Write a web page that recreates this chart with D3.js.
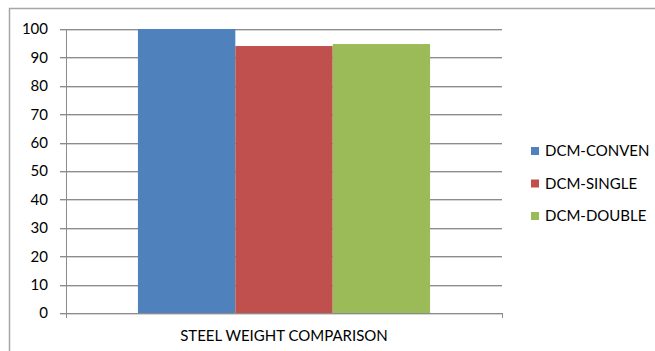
<!DOCTYPE html>
<html><head><meta charset="utf-8">
<script src="https://cdn.jsdelivr.net/npm/d3@7"></script>
<style>html,body{margin:0;padding:0;background:#fff}svg{display:block}</style>
</head><body>
<script>
const categories = ["STEEL WEIGHT COMPARISON"];
const seriesNames = ["DCM-CONVEN", "DCM-SINGLE", "DCM-DOUBLE"];
const seriesValues = [100, 94.0, 94.7];
const colors = ["#4f81bd", "#c0504d", "#9bbb59"];
const yTicks = [0,10,20,30,40,50,60,70,80,90,100];

const W = 655, H = 351;
const svg = d3.select("body").append("svg").attr("width", W).attr("height", H);
const font = "Lato, 'Open Sans', sans-serif";
const fs = 15;

// outer frame (left and top visible)
svg.append("path").attr("d", `M9.5,${H} L9.5,8.5 L${W},8.5`).attr("fill","none").attr("stroke","#a6a6a6").attr("stroke-width",1.5);

const x0 = 66, x1 = 502, yTop = 29, yBot = 313;
const y = d3.scaleLinear().domain([0,100]).range([yBot, yTop]);
const xCat = d3.scaleBand().domain(categories).range([x0, x1]);
const xSer = d3.scaleBand().domain(seriesNames).range([xCat.bandwidth()*0.165, xCat.bandwidth()*0.835]);

// gridlines
const g = svg.append("g");
yTicks.forEach(t => {
  g.append("line").attr("x1", x0-6).attr("x2", x1).attr("y1", Math.round(y(t))+0.5).attr("y2", Math.round(y(t))+0.5)
    .attr("stroke", "#8c8c8c").attr("stroke-width", 1);
  g.append("line").attr("x1", x0-6).attr("x2", x1).attr("y1", Math.round(y(t))+1.5).attr("y2", Math.round(y(t))+1.5)
    .attr("stroke", "#d4d4d4").attr("stroke-width", 1);
});

// bars
categories.forEach(c => {
  seriesNames.forEach((s, i) => {
    svg.append("rect")
      .attr("x", xCat(c) + xSer(s))
      .attr("y", y(seriesValues[i]))
      .attr("width", xSer.bandwidth())
      .attr("height", y(0) - y(seriesValues[i]))
      .attr("fill", colors[i]);
  });
});

// y axis
const yAxis = d3.axisLeft(y).tickValues(yTicks).tickSize(0).tickPadding(18);
const ya = svg.append("g").attr("transform", `translate(${x0},0)`).call(yAxis);
ya.select(".domain").remove();
ya.selectAll("text").attr("font-family", font).attr("font-size", fs).attr("fill", "#000");
svg.append("line").attr("x1", x0+0.5).attr("x2", x0+0.5).attr("y1", yTop).attr("y2", yBot+5).attr("stroke","#8c8c8c");
svg.append("line").attr("x1", x1+0.5).attr("x2", x1+0.5).attr("y1", yBot).attr("y2", yBot+5).attr("stroke","#8c8c8c");

// x axis label
const xAxis = d3.axisBottom(xCat).tickSize(0).tickPadding(17);
const xa = svg.append("g").attr("transform", `translate(0,${yBot})`).call(xAxis);
xa.select(".domain").remove();
xa.selectAll("text").attr("font-family", font).attr("font-size", fs).attr("fill", "#000");

// legend
const leg = svg.append("g");
const legY = d3.scalePoint().domain(seriesNames).range([151, 216]);
seriesNames.forEach((s, i) => {
  leg.append("rect").attr("x", 531).attr("y", legY(s)-4).attr("width", 8).attr("height", 8).attr("fill", colors[i]);
  leg.append("text").attr("x", 545).attr("y", legY(s)).attr("dy", "0.35em")
    .attr("font-family", font).attr("font-size", fs).attr("fill", "#000").text(s);
});
</script>
</body></html>
